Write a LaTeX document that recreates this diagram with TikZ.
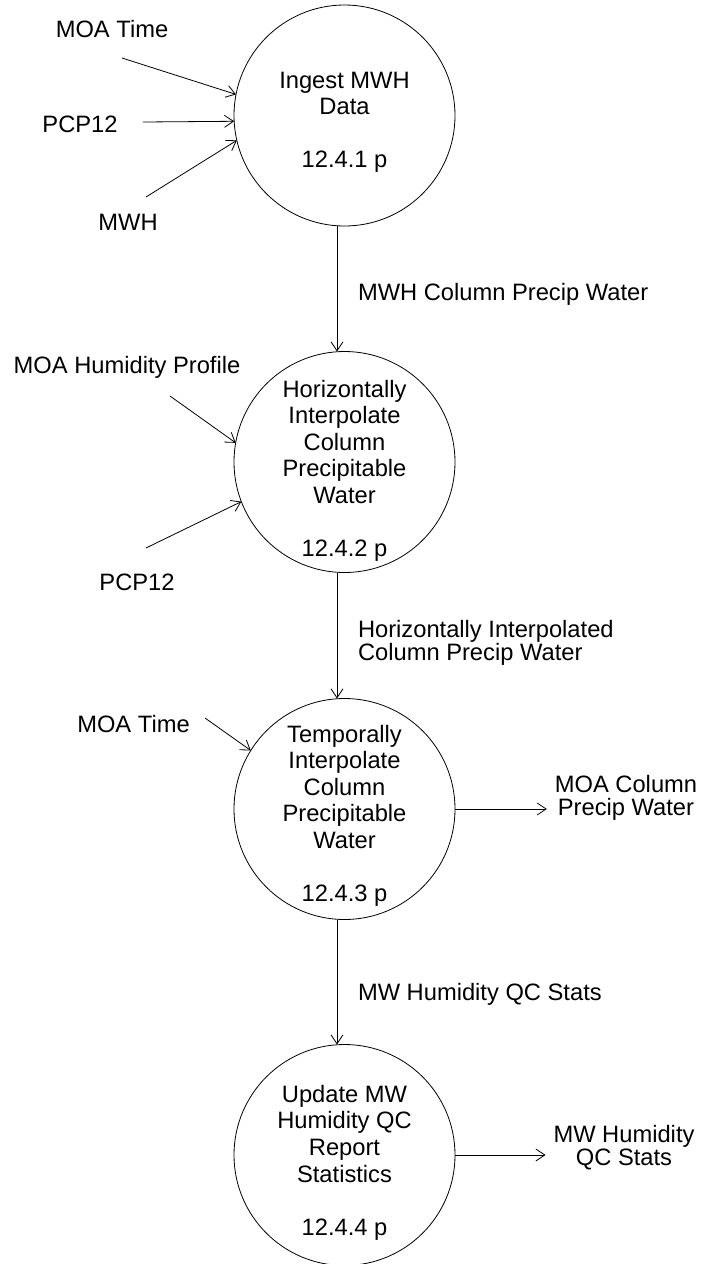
\documentclass[tikz,border=0pt]{standalone}
\usepackage{fontspec}
\setmainfont{Liberation Sans}
\usetikzlibrary{arrows.meta}
\begin{document}
\begin{tikzpicture}[x=1bp,y=-1bp,
  every node/.style={inner sep=0pt,outer sep=0pt},
  process/.style={draw,circle,line width=0.8bp,minimum size=221bp},
  proctext/.style={anchor=north,align=center,font=\fontsize{23.8}{26.7}\selectfont},
  flowlabel/.style={font=\fontsize{23.8}{23.3}\selectfont},
  flow/.style={draw,line width=0.8bp,-{Straight Barb[length=9bp,width=12bp,line width=0.8bp]}}]
\path[use as bounding box,fill=white] (0,0) rectangle (701,1264);

% processes
\node[process] (p1) at (344.5,115.5) {};
\node[process] (p2) at (344.5,462) {};
\node[process] (p3) at (344.5,809) {};
\node[process] (p4) at (344.5,1155) {};

\node[proctext] (t1) at (344.5,71.7) {Ingest MWH\\Data\\[26.7bp]12.4.1 p};
\node[proctext] (t2) at (344.5,380) {Horizontally\\Interpolate\\Column\\Precipitable\\Water\\[26.7bp]12.4.2 p};
\node[proctext] (t3) at (344.5,725) {Temporally\\Interpolate\\Column\\Precipitable\\Water\\[26.7bp]12.4.3 p};
\node[proctext] (t4) at (344.5,1085) {Update MW\\Humidity QC\\Report\\Statistics\\[26.7bp]12.4.4 p};

% external inputs
\node[flowlabel,anchor=base] (in1a) at (112,37) {MOA Time};
\node[flowlabel,anchor=base] (in1b) at (80,132) {PCP12};
\node[flowlabel,anchor=base] (in1c) at (128,230) {MWH};
\node[flowlabel,anchor=base] (in2a) at (127,373) {MOA Humidity Profile};
\node[flowlabel,anchor=base] (in2b) at (137,590) {PCP12};
\node[flowlabel,anchor=base] (in3a) at (133.5,732) {MOA Time};

\coordinate (s1a) at (122,58);
\coordinate (s1b) at (143,122);
\coordinate (s1c) at (146,197);
\coordinate (s2a) at (170,396);
\coordinate (s2b) at (146,548);
\coordinate (s3a) at (205,718);

\draw[flow] (s1a) -- (p1.169.4);
\draw[flow] (s1b) -- (p1.183.4);
\draw[flow] (s1c) -- (p1.193);
\draw[flow] (s2a) -- (p2.170.5);
\draw[flow] (s2b) -- (p2.201);
\draw[flow] (s3a) -- (p3.148);

% flows between processes
\draw[flow] ([xshift=-7.5bp]p1.south) -- ([xshift=-7.5bp]p2.north);
\draw[flow] ([xshift=-7.5bp]p2.south) -- ([xshift=-7.5bp]p3.north);
\draw[flow] ([xshift=-7.5bp]p3.south) -- ([xshift=-7.5bp]p4.north);

\node[flowlabel,anchor=base west] (f12) at (358,300) {MWH Column Precip Water};
\node[flowlabel,anchor=north west,align=left] (f23) at (358,620) {Horizontally Interpolated\\Column Precip Water};
\node[flowlabel,anchor=base west] (f34) at (358,1000) {MW Humidity QC Stats};

% outputs
\node[flowlabel,anchor=north,align=center] (o3) at (626,775) {MOA Column\\Precip Water};
\node[flowlabel,anchor=north,align=center] (o4) at (624,1125) {MW Humidity\\QC Stats};

\draw[flow,shorten >=8bp] (p3.east) -- (p3.east -| o3.west);
\draw[flow,shorten >=8bp] (p4.east) -- (p4.east -| o4.west);
\end{tikzpicture}
\end{document}
